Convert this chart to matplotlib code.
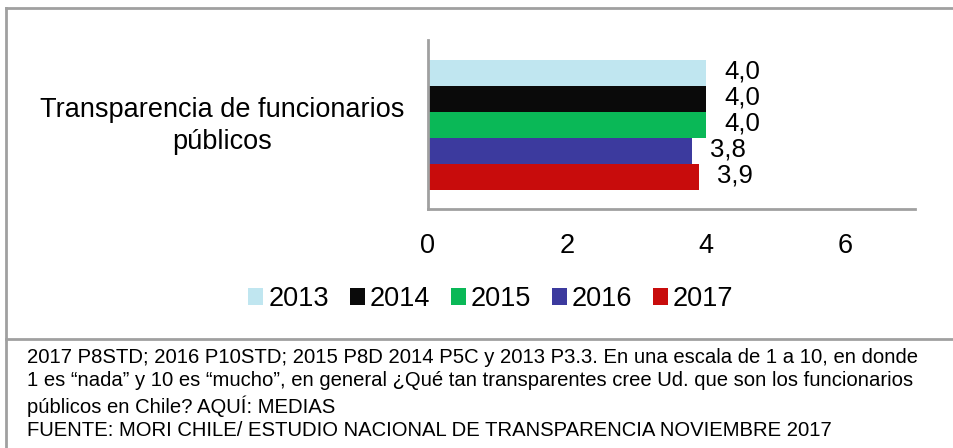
import matplotlib
matplotlib.use("Agg")
import matplotlib.pyplot as plt
from matplotlib.patches import Patch
from matplotlib.lines import Line2D

plt.rcParams['font.family'] = ['Liberation Sans', 'DejaVu Sans']

category = "Transparencia de funcionarios\npúblicos"
years = ["2013", "2014", "2015", "2016", "2017"]
values = [4.0, 4.0, 4.0, 3.8, 3.9]
colors = ["#c0e6f0", "#0a0a0a", "#0ab857", "#3c3a9e", "#c80c0c"]
xticks = [0, 2, 4, 6]
footnote = ("2017 P8STD; 2016 P10STD; 2015 P8D 2014 P5C y 2013 P3.3. En una escala de 1 a 10, en donde\n"
            "1 es “nada” y 10 es “mucho”, en general ¿Qué tan transparentes cree Ud. que son los funcionarios\n"
            "públicos en Chile? AQUÍ: MEDIAS\n"
            "FUENTE: MORI CHILE/ ESTUDIO NACIONAL DE TRANSPARENCIA NOVIEMBRE 2017")

W, H = 954, 448
fig = plt.figure(figsize=(W/100, H/100), dpi=100)

# frame lines
gray = "#a0a0a0"
fig.add_artist(Line2D([6.5/W, 6.5/W], [0, 1-8/H], color=gray, lw=2))
fig.add_artist(Line2D([6.5/W, 1], [1-8/H, 1-8/H], color=gray, lw=2))
fig.add_artist(Line2D([6.5/W, 1], [1-339/H, 1-339/H], color=gray, lw=2))

ax = fig.add_axes([428/W, 1-209/H, (915-428)/W, (209-40)/H])
bar_h = 26.0 / 169.0
n = len(values)
top = 1 - (60 - 40) / 169.0
ys = [top - bar_h*(i+0.5) for i in range(n)]
for y, v, c, yr in zip(ys, values, colors, years):
    ax.barh(y, v, height=bar_h*0.97, color=c, label=yr)
    ax.text(v + 0.26, y + 0.01, f"{v:.1f}".replace(".", ","), va="center", ha="left", fontsize=18.5)
ax.set_ylim(0, 1)
ax.set_xlim(0, 7.0)
ax.set_xticks(xticks)
ax.set_xticklabels([str(t) for t in xticks], fontsize=19.5)
ax.set_yticks([])
ax.tick_params(axis='x', length=0, pad=17)
for s in ["top", "right"]:
    ax.spines[s].set_visible(False)
for s in ["left", "bottom"]:
    ax.spines[s].set_color(gray)
    ax.spines[s].set_linewidth(2)

fig.text(222/W, 1-126/H, category, ha="center", va="center", fontsize=19.5, linespacing=1.3)

handles = [Patch(facecolor=c, edgecolor="none") for c in colors]
fig.legend(handles, years, loc="center", bbox_to_anchor=(491/W, 1-299/H), ncol=5,
           frameon=False, fontsize=19.5, handlelength=0.55, handleheight=0.55,
           handletextpad=0.2, columnspacing=0.75)

fig.text(27/W, 1-348/H, footnote, ha="left", va="top", fontsize=14.6, linespacing=1.29)

fig.savefig("out.png", dpi=100)
